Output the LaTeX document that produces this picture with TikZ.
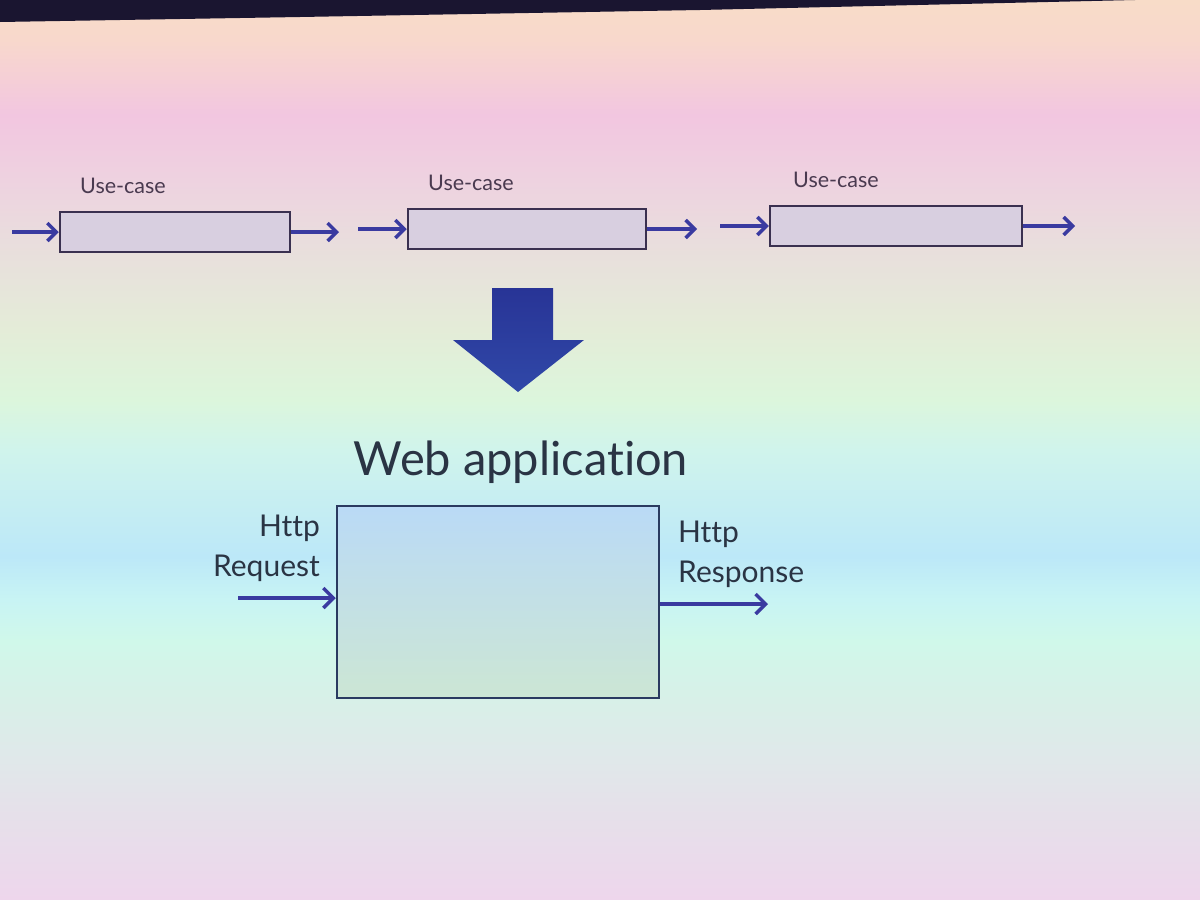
\documentclass[tikz,border=0pt]{standalone}
\usepackage{fontspec}
\setmainfont{Lato}[Ligatures={NoCommon}]
\usetikzlibrary{arrows.meta}
\definecolor{b0}{HTML}{EED6EC}
\definecolor{b1}{HTML}{E6E0EA}
\definecolor{b2}{HTML}{E0E8EA}
\definecolor{b3}{HTML}{D8F0E8}
\definecolor{b4}{HTML}{D0F8EA}
\definecolor{b5}{HTML}{C8F4F4}
\definecolor{b6}{HTML}{BCE8F8}
\definecolor{b7}{HTML}{D0F4EC}
\definecolor{b8}{HTML}{DCF6DC}
\definecolor{b9}{HTML}{E4ECD8}
\definecolor{b10}{HTML}{E8E0DC}
\definecolor{b11}{HTML}{EED2E0}
\definecolor{b12}{HTML}{F2C6E0}
\definecolor{b13}{HTML}{F8D8CC}
\definecolor{b14}{HTML}{F8DCC8}
\pgfdeclareverticalshading{slidebg}{100bp}{color(0bp)=(b0); color(25bp)=(b0); color(29.7bp)=(b1); color(32.8bp)=(b2); color(36.1bp)=(b3); color(39.4bp)=(b4); color(41.7bp)=(b5); color(44.1bp)=(b6); color(50bp)=(b7); color(52.8bp)=(b8); color(56.7bp)=(b9); color(60.7bp)=(b10); color(65bp)=(b11); color(68.6bp)=(b12); color(72.8bp)=(b13); color(75bp)=(b14); color(100bp)=(b14)}
\definecolor{arrowblue}{HTML}{3A3AA0}
\definecolor{boxline}{HTML}{3A3050}
\definecolor{boxfill}{HTML}{D8CFE0}
\definecolor{labeltext}{HTML}{4A3A50}
\definecolor{darktext}{HTML}{2A3444}
\definecolor{webline}{HTML}{2A3A60}
\tikzset{
  usecase/.style={draw=boxline, line width=2.5pt, fill=boxfill, minimum width=#1, minimum height=40pt, inner sep=0pt},
  uclabel/.style={text=labeltext, font=\fontsize{21.5}{26}\selectfont, inner sep=0pt},
  flow/.style={draw=arrowblue, line width=3.5pt, -{Straight Barb[length=9pt, width=18pt, line width=3.5pt]}},
  bigflow/.style={draw=arrowblue, line width=3.5pt, -{Straight Barb[length=10pt, width=20pt, line width=3.5pt]}},
  weblabel/.style={text=darktext, font=\fontsize{30}{40}\selectfont, inner sep=0pt, align=#1},
}
\begin{document}
\begin{tikzpicture}[x=1pt,y=-1pt]
\useasboundingbox (0,0) rectangle (1200,900);
\shade[shading=slidebg] (0,0) rectangle (1200,900);
\fill[fill={rgb,255:red,26;green,21;blue,48}] (0,0) -- (1135,0) -- (700,10) -- (300,17) -- (0,22) -- cycle;
% use-case row
\node[usecase=230pt] (uc1) at (175,232) {};
\node[usecase=238pt] (uc2) at (527,229) {};
\node[usecase=252pt] (uc3) at (896,226) {};
\node[uclabel] (l1) at (123,186) {Use-case};
\node[uclabel] (l2) at (471,183) {Use-case};
\node[uclabel] (l3) at (836,180) {Use-case};
\coordinate (in1) at (12,232);
\coordinate (o1) at (339,232);
\coordinate (in2) at (358,229);
\coordinate (o2) at (697,229);
\coordinate (in3) at (720,226);
\coordinate (o3) at (1075,226);
\draw[flow] (in1) -- (uc1.west);
\draw[flow] (uc1.east) -- (o1);
\draw[flow] (in2) -- (uc2.west);
\draw[flow] (uc2.east) -- (o2);
\draw[flow] (in3) -- (uc3.west);
\draw[flow] (uc3.east) -- (o3);
% big down arrow
\shade[top color={rgb,255:red,40;green,52;blue,150}, bottom color={rgb,255:red,48;green,72;blue,168}]
  (492,288) -- (553,288) -- (553,340) -- (584,340) -- (518,392) -- (453,340) -- (492,340) -- cycle;
% web application
\node[text=darktext, font=\fontsize{47}{54}\selectfont, inner sep=0pt] (title) at (521,462) {Web application};
\node[draw=webline, line width=2.5pt, top color={rgb,255:red,186;green,218;blue,246}, bottom color={rgb,255:red,204;green,230;blue,212}, minimum width=322pt, minimum height=192pt, inner sep=0pt] (web) at (498,602) {};
\node[weblabel=right, anchor=north east] (req) at (320,515) {Http\\Request};
\node[weblabel=left, anchor=north west] (resp) at (678,521) {Http\\Response};
\coordinate (reqin) at (238,598);
\coordinate (respout) at (768,604);
\draw[bigflow] (reqin) -- (reqin -| web.west);
\draw[bigflow] (respout -| web.east) -- (respout);
\end{tikzpicture}
\end{document}
